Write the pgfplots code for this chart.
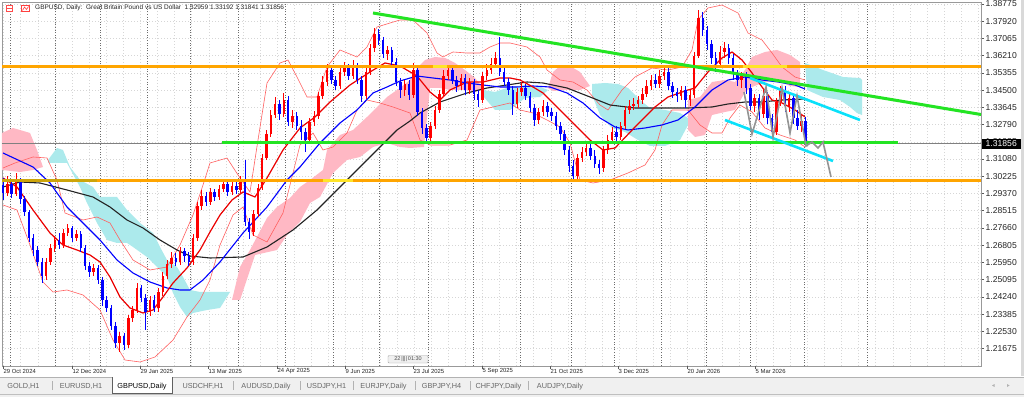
\documentclass[border=0pt]{standalone}
\usepackage{pgfplots}
\pgfplotsset{compat=1.18}
\usepackage{pgfplotstable}
\usetikzlibrary{calc}
\usepackage{fontspec}
\setmainfont{Liberation Sans}
\newfontfamily\ui{Liberation Sans}
\pgfdeclarelayer{background}
\pgfsetlayers{background,main}

\definecolor{cpink}{RGB}{255,184,196}
\definecolor{ccyan}{RGB}{172,234,236}
\definecolor{corange}{RGB}{255,165,0}
\definecolor{colive}{RGB}{205,165,10}
\definecolor{cyel}{RGB}{255,228,40}
\definecolor{cgreen}{RGB}{35,228,35}
\definecolor{caqua}{RGB}{10,225,250}
\definecolor{cband}{RGB}{255,95,95}
\definecolor{cmid}{RGB}{235,0,0}
\definecolor{cup}{RGB}{255,0,0}
\definecolor{cdn}{RGB}{0,0,255}
\definecolor{cblk}{RGB}{35,35,35}
\definecolor{tabbg}{RGB}{240,240,240}

% Readings were taken as pixel rows of the screenshot; \Y maps them to price
% with the right-hand scale (1.38775 at row 4, 0.00855 per 17.225 rows).
\newcommand{\Y}[1]{1.38775-(\thisrow{#1}-4)*0.00049637}

% candles: x, open, close, high, low (screen rows)
\pgfplotstableread{
x o c h l
3 185 193 178 200
7.3 193 184 176 196
11.6 184 194 180 198
16 194 181 173 196
20.3 181 199 178 204
24.6 199 212 196 216
28.9 212 238 210 242
33.2 238 250 234 256
37.6 250 262 246 266
41.9 262 276 258 283
46.2 276 262 258 280
50.5 262 248 244 265
54.8 248 240 236 252
59.2 240 245 233 249
63.5 245 233 229 248
67.8 233 228 224 236
72.1 228 238 226 242
76.4 238 234 230 241
80.8 234 248 231 252
85.1 248 266 245 270
89.4 266 272 262 277
93.7 272 268 264 276
98 268 280 265 284
102.4 280 300 277 306
106.7 300 308 296 312
111 308 326 305 330
115.3 326 343 322 348
119.6 343 336 332 352
124 336 345 333 350
128.3 345 318 315 348
132.6 318 310 306 322
136.9 310 288 283 313
141.2 288 298 285 302
145.6 298 312 294 330
149.9 312 300 296 316
154.2 300 308 295 312
158.5 308 292 288 312
162.8 292 276 272 296
167.2 276 264 260 279
171.5 264 258 252 268
175.8 258 262 253 266
180.1 262 251 247 265
184.4 251 256 248 262
188.8 256 262 252 266
193.1 262 238 234 265
197.4 238 206 202 241
201.7 206 196 190 210
206 196 202 192 206
210.4 202 192 188 205
214.7 192 197 189 201
219 197 189 185 200
223.3 189 184 180 192
227.6 184 192 181 196
232 192 186 182 195
236.3 186 190 182 194
240.6 190 180 176 193
244.9 180 222 160 226
249.2 222 232 218 239
253.6 232 214 210 236
257.9 214 188 184 217
262.2 188 158 154 190
266.5 158 134 130 160
270.8 134 115 110 137
275.2 115 104 97 118
279.5 104 114 100 120
283.8 114 100 93 117
288.1 100 122 96 126
292.4 122 116 110 128
296.8 116 126 112 130
301.1 126 132 120 140
305.4 132 140 128 152
309.7 140 122 118 143
314 122 116 111 126
318.4 116 96 92 119
322.7 96 82 76 99
327 82 70 64 86
331.3 70 80 66 84
335.6 80 86 76 90
340 86 72 67 89
344.3 72 68 62 76
348.6 68 76 64 80
352.9 76 66 60 79
357.2 66 80 63 84
361.6 80 96 76 102
365.9 96 72 68 99
370.2 72 48 44 75
374.5 48 34 28 52
378.8 34 40 29 45
383.2 40 54 37 58
387.5 54 50 46 60
391.8 50 62 47 66
396.1 62 82 58 86
400.4 82 90 78 98
404.8 90 84 80 96
409.1 84 95 80 100
413.4 95 70 63 98
417.7 70 112 66 116
422 112 128 108 134
426.4 128 138 124 143
430.7 138 126 122 141
435 126 110 106 129
439.3 110 94 90 113
443.6 94 76 70 97
448 76 70 65 80
452.3 70 80 66 84
456.6 80 86 76 92
460.9 86 78 74 90
465.2 78 90 74 95
469.6 90 82 78 94
473.9 82 94 79 100
478.2 94 100 90 107
482.5 100 76 72 103
486.8 76 70 64 80
491.2 70 64 58 74
495.5 64 58 52 68
499.8 58 72 37 76
504.1 72 82 68 86
508.4 82 90 78 95
512.8 90 104 86 115
517.1 104 92 88 108
521.4 92 88 82 96
525.7 88 96 84 100
530 96 108 92 112
534.4 108 120 104 126
538.7 120 112 108 124
543 112 106 100 116
547.3 106 112 102 117
551.6 112 116 108 121
556 116 126 112 130
560.3 126 134 122 140
564.6 134 150 130 155
568.9 150 166 146 172
573.2 166 176 160 181
577.6 176 158 154 180
581.9 158 152 147 162
586.2 152 148 144 156
590.5 148 156 144 160
594.8 156 164 150 168
599.2 164 168 160 174
603.5 168 150 146 172
607.8 150 140 135 154
612.1 140 132 127 144
616.4 132 137 126 142
620.8 137 126 122 140
625.1 126 110 106 129
629.4 110 106 100 114
633.7 106 104 98 110
638 104 100 96 108
642.4 100 94 88 104
646.7 94 86 80 97
651 86 80 75 90
655.3 80 84 74 88
659.6 84 76 70 88
664 76 72 66 80
668.3 72 86 68 90
672.6 86 92 82 98
676.9 92 96 88 102
681.2 96 90 86 100
685.6 90 100 86 108
689.9 100 95 90 106
694.2 95 56 52 98
698.5 56 18 10 58
702.8 18 30 12 36
707.2 30 44 26 50
711.5 44 58 40 64
715.8 58 64 52 72
720.1 64 52 46 68
724.4 52 48 42 58
728.8 48 58 44 64
733.1 58 74 54 80
737.4 74 80 70 86
741.7 80 76 72 88
746 76 88 72 94
750.4 88 106 84 110
754.7 106 98 94 112
759 98 114 94 120
763.3 114 96 90 118
767.6 96 118 92 124
772 118 132 114 137
776.3 132 102 98 135
780.6 102 90 86 106
784.9 90 106 86 112
789.2 106 98 92 112
793.6 98 118 94 124
797.6 118 126 110 130
801.4 126 121 114 132
805.5 121 144 117 145
}\candles

\pgfplotstableread{
x py
3 187
20 182
40 183
67 190
93 197
110 207
127 220
143 228
160 240
177 250
190 256
210 258
243 257
267 247
293 230
317 210
340 187
360 167
380 147
397 130
410 121
420 113
440 102
467 93
487 88
507 85
527 82
543 83
567 88
590 97
610 105
635 108
662 108
688 108
712 107
728 104
745 102
762 102
782 100
805 99
}\mablack

\pgfplotstableread{
x py
3 153
33 167
50 183
67 207
83 223
100 240
117 260
133 273
150 282
167 288
180 290
190 290
203 280
220 262
243 233
267 207
287 180
300 167
320 143
340 123
357 110
373 93
387 87
400 81
417 76
433 78
450 80
467 83
483 85
500 87
517 87
533 86
550 87
567 93
583 103
600 118
615 127
628 130
645 128
662 125
678 120
695 107
712 90
728 80
745 77
762 80
778 82
795 85
805 89
}\mablue

\pgfplotstableread{
x py
3 178
17 187
33 210
50 233
63 245
77 250
90 255
100 262
110 277
120 297
130 308
143 313
153 310
163 297
173 283
187 268
200 250
210 232
220 215
232 200
243 192
255 197
267 178
283 150
300 128
315 117
330 102
350 85
370 72
385 63
400 66
417 76
430 92
440 100
450 90
467 82
483 82
500 78
510 78
520 80
533 87
543 93
557 107
573 123
590 140
603 150
615 148
635 127
655 107
668 97
688 90
695 88
708 72
722 58
732 52
742 60
752 73
762 87
772 100
782 103
795 110
805 117
}\mamid

\pgfplotstableread{
x py
3 168
15 163
33 157
47 158
57 180
65 213
83 220
97 217
110 223
120 240
133 260
150 270
167 267
180 245
193 215
203 185
210 163
227 158
240 178
250 192
258 140
267 83
280 63
288 60
297 77
307 97
317 97
327 67
340 50
357 57
367 47
377 27
390 23
400 20
413 20
427 33
437 53
443 57
453 52
467 53
480 53
490 47
500 43
510 43
527 47
540 57
547 70
560 80
573 82
587 90
600 105
608 110
622 90
635 77
652 68
668 70
682 67
692 50
698 20
708 8
722 5
738 13
748 33
762 40
772 53
782 67
795 77
805 80
}\bbup

\pgfplotstableread{
x py
3 205
17 210
30 245
43 282
53 292
67 290
83 295
100 310
113 340
125 360
140 362
155 357
173 340
187 317
200 300
210 280
220 245
233 215
243 207
253 235
267 242
283 213
293 173
300 145
313 133
323 150
333 147
347 133
357 110
367 100
380 103
393 107
410 113
420 140
430 145
450 145
467 140
480 110
493 107
510 103
520 110
533 113
547 120
560 127
570 143
580 180
593 183
610 180
628 173
645 165
655 150
662 125
672 110
688 110
700 125
712 133
722 133
730 118
740 105
752 112
765 128
780 135
795 140
805 147
}\bblo

\pgfplotstableread{
x py
2 133
13 128
20 130
30 133
37 150
43 167
33 170
20 172
2 170
}\pinkA
\pgfplotstableread{
x py
48 160
57 148
63 150
70 167
80 180
93 187
100 197
117 197
127 210
140 223
153 233
160 247
167 260
177 267
183 277
190 290
200 292
230 292
220 308
207 310
193 313
187 317
180 307
173 293
167 277
157 267
147 257
133 247
127 243
117 243
107 240
97 223
87 203
80 187
67 163
48 163
}\cyanA
\pgfplotstableread{
x py
232 300
240 267
250 250
267 218
277 207
290 198
300 187
310 180
323 170
327 150
340 135
353 130
367 117
377 107
387 97
400 88
410 80
417 68
425 60
435 57
445 58
455 63
465 70
475 78
483 88
475 92
465 90
450 90
440 88
430 88
424 147
410 148
400 147
387 143
373 147
360 157
347 160
333 173
320 197
310 203
300 222
287 235
277 250
255 255
240 300
}\pinkB
\pgfplotstableread{
x py
483 90
495 92
510 87
525 85
540 87
548 90
540 97
525 98
510 110
495 110
483 96
}\cyanB
\pgfplotstableread{
x py
548 88
553 72
560 66
570 66
580 72
590 86
580 90
565 90
553 91
}\pinkC
\pgfplotstableread{
x py
592 84
605 83
618 84
628 88
640 100
650 108
665 110
680 113
688 118
688 125
680 140
665 146
650 146
638 140
625 132
612 128
600 115
592 95
}\cyanC
\pgfplotstableread{
x py
688 100
700 97
712 82
725 80
735 82
745 70
752 57
765 52
777 50
790 55
800 62
800 87
790 86
777 80
765 82
752 87
745 92
735 110
725 112
712 115
705 135
695 137
688 130
}\pinkD
\pgfplotstableread{
x py
805 63
823 70
843 77
860 78
862 80
862 115
857 113
850 107
840 100
823 97
807 90
}\cyanD
\pgfplotstableread{
x py
744 92
752 134
766 87
773 137
782 88
790 133
797 96
806 146
812 142
818 148
823 142
831 177
}\zigzag

\begin{document}
\begin{tikzpicture}[x=1pt,y=1pt]
\begin{axis}[
  at={(0,0)}, anchor=south west,
  scale only axis, width=979pt, height=364pt,
  xmin=2, xmax=981, ymin=1.20806, ymax=1.38874,
  axis line style={draw=gray!80, line width=0.7pt},
  xtick={3.6,20.7,...,981}, xticklabels={}, xtick style={draw=none},
  ytick={1.38775,1.37920,1.37065,1.36210,1.35355,1.34500,1.33645,1.32790,1.31935,1.31080,1.30225,1.29370,1.28515,1.27660,1.26805,1.25950,1.25095,1.24240,1.23385,1.22530,1.21675},
  yticklabels={1.38775,1.37920,1.37065,1.36210,1.35355,1.34500,1.33645,1.32790,1.31935,1.31080,1.30225,1.29370,1.28515,1.27660,1.26805,1.25950,1.25095,1.24240,1.23385,1.22530,1.21675},
  ytick pos=right, yticklabel pos=right,
  tick align=outside, major tick length=3pt,
  ytick style={draw=gray!70!black, line width=0.5pt},
  yticklabel style={font=\ui\fontsize{8.6}{9}\selectfont, text=black!85, anchor=west, inner sep=0pt, xshift=1.5pt},
  xmajorgrids, ymajorgrids,
  grid style={draw=gray!32, line width=0.55pt, dash pattern=on 1pt off 2pt},
  extra x ticks={10,55,100,147,190,238,285,333,379,428,473,520,571,614,661,706,750,804,867},
  extra x tick labels={},
  extra x tick style={grid style={draw=gray!85!black, line width=0.55pt, dash pattern=on 1pt off 1.6pt}},
  clip=true,
]
\coordinate (C) at (rel axis cs:0,0);
% Ichimoku cloud
\addplot[fill=cpink, draw=none] table[x=x, y expr=\Y{py}] {\pinkA};
\addplot[fill=ccyan, draw=none] table[x=x, y expr=\Y{py}] {\cyanA};
\addplot[fill=cpink, draw=none] table[x=x, y expr=\Y{py}] {\pinkB};
\addplot[fill=ccyan, draw=none] table[x=x, y expr=\Y{py}] {\cyanB};
\addplot[fill=cpink, draw=none] table[x=x, y expr=\Y{py}] {\pinkC};
\addplot[fill=ccyan, draw=none] table[x=x, y expr=\Y{py}] {\cyanC};
\addplot[fill=cpink, draw=none] table[x=x, y expr=\Y{py}] {\pinkD};
\addplot[fill=ccyan, draw=none] table[x=x, y expr=\Y{py}] {\cyanD};
% Bollinger bands and moving averages
\addplot[cband, line width=0.6pt] table[x=x, y expr=\Y{py}] {\bbup};
\addplot[cband, line width=0.6pt] table[x=x, y expr=\Y{py}] {\bblo};
\addplot[cblk, line width=1.1pt] table[x=x, y expr=\Y{py}] {\mablack};
\addplot[cdn, line width=1.1pt] table[x=x, y expr=\Y{py}] {\mablue};
\addplot[cmid, line width=1.2pt] table[x=x, y expr=\Y{py}] {\mamid};
% candles: wicks
\addplot[cup, line width=0.7pt, restrict expr to domain={\thisrow{o}-\thisrow{c}}{0.01:1000},
  quiver={u=0, v={(\thisrow{l}-\thisrow{h})*0.00049637}}] table[x=x, y expr=\Y{l}] {\candles};
\addplot[cdn, line width=0.7pt, restrict expr to domain={\thisrow{c}-\thisrow{o}}{0.01:1000},
  quiver={u=0, v={(\thisrow{l}-\thisrow{h})*0.00049637}}] table[x=x, y expr=\Y{l}] {\candles};
% candles: bodies
\addplot[cup, line width=2.5pt, restrict expr to domain={\thisrow{o}-\thisrow{c}}{0.01:1000},
  quiver={u=0, v={(\thisrow{o}-\thisrow{c})*0.00049637}}] table[x=x, y expr=\Y{o}] {\candles};
\addplot[cdn, line width=2.5pt, restrict expr to domain={\thisrow{c}-\thisrow{o}}{0.01:1000},
  quiver={u=0, v={(\thisrow{o}-\thisrow{c})*0.00049637}}] table[x=x, y expr=\Y{o}] {\candles};
% horizontal levels
\addplot[corange, line width=3pt] coordinates {(2,1.35648) (981,1.35648)};
\addplot[corange, line width=3pt] coordinates {(2,1.30024) (981,1.30024)};
\addplot[colive, line width=3pt] coordinates {(2,1.30024) (97,1.30024)};
\addplot[cyel, line width=3pt] coordinates {(323,1.30024) (353,1.30024)};
\addplot[cyel, line width=3pt] coordinates {(433,1.35648) (447,1.35648)};
\addplot[cyel, line width=3pt] coordinates {(743,1.35648) (787,1.35648)};
\addplot[gray, line width=0.7pt] coordinates {(2,1.31856) (981,1.31856)};
\addplot[cgreen, line width=3pt] coordinates {(222,1.31900) (898,1.31900)};
% trend lines
\addplot[cgreen, line width=3pt] coordinates {(373,1.38328) (981,1.33290)};
\addplot[caqua, line width=2.6pt] coordinates {(750,1.35102) (860,1.33017)};
\addplot[caqua, line width=2.6pt] coordinates {(725,1.33017) (833,1.30982)};
\addplot[gray!85, line width=1.6pt] table[x=x, y expr=\Y{py}] {\zigzag};
\end{axis}
\coordinate (O) at ($(C)+(-2,-31)$);
\begin{scope}[shift={(O)}]
\begin{pgfonlayer}{background}
\fill[white] (0,0) rectangle (1024,397);
\end{pgfonlayer}
% current price label
\fill[black] (982,248.4) rectangle (1021,258.4);
\node[text=white, font=\ui\fontsize{8.6}{9}\selectfont, anchor=west, inner sep=0pt] at (985.5,253.4) {1.31856};
% title
\fill[red!70] (6,385) rectangle (13,392);
\fill[white] (7,386) rectangle (12,391);
\draw[red!70, line width=0.6pt] (7,388.5) -- (12,388.5);
\draw[red!75, line width=0.7pt] (21.5,385.5) rectangle (29.5,391.5);
\draw[red!75, line width=0.6pt] (22.5,386.5) -- (24.5,390) -- (26.5,387.5) -- (28.5,390.5);
\node[anchor=west, inner sep=0pt, font=\ui\fontsize{6.5}{7}\selectfont, text=black!85] at (35,389)
  {GBPUSD, Daily:\ \ Great Britain Pound vs US Dollar\ \ 1.32959 1.33192 1.31841 1.31856};
% timer box
\draw[gray!70, fill=gray!12, rounded corners=1pt] (388,34) rectangle (428,41.5);
\node[inner sep=0pt, font=\ui\fontsize{5.5}{6}\selectfont, text=black!70] at (408,37.8) {22\,||||\,01:30};
% date axis
\foreach \xx/\lab in {3/29 Oct 2024,72/12 Dec 2024,140/29 Jan 2025,208/13 Mar 2025,277/24 Apr 2025,345/9 Jun 2025,413/23 Jul 2025,482/5 Sep 2025,550/21 Oct 2025,618/3 Dec 2025,687/20 Jan 2026,755/5 Mar 2026}{
  \draw[gray!70!black, line width=0.5pt] (\xx,31) -- (\xx,28);
  \node[anchor=west, inner sep=0pt, font=\ui\fontsize{5.9}{6.5}\selectfont, text=black!85] at (\xx+0.5,25.5) {\lab};
}
% right window edge
\fill[gray!30] (1021,21) rectangle (1024,397);
% tab bar
\fill[tabbg] (0,0) rectangle (1024,20);
\draw[gray!60, line width=0.5pt] (0,20) -- (1024,20);
\fill[white] (112,4) rectangle (172,20.5);
\draw[gray!75!black, line width=0.6pt] (112,20) -- (112,4) -- (172,4) -- (172,20);
\foreach \sx in {52,233,300,353,415,470,528}{\draw[gray!60, line width=0.5pt] (\sx,7) -- (\sx,16);}
\foreach \cx/\lab in {23.5/{GOLD,H1},81/{EURUSD,H1},203/{USDCHF,H1},266/{AUDUSD,Daily},326.5/{USDJPY,H1},383.5/{EURJPY,Daily},441.5/{GBPJPY,H4},498.5/{CHFJPY,Daily},560/{AUDJPY,Daily}}{
  \node[inner sep=0pt, font=\ui\fontsize{7.3}{8}\selectfont, text=gray!80!black] at (\cx,10.5) {\lab};
}
\node[inner sep=0pt, font=\ui\fontsize{7.3}{8}\selectfont, text=black] at (142,10.5) {GBPUSD,Daily};
\fill[gray!60] (992,11.5) -- (994.5,13) -- (994.5,10) -- cycle;
\fill[gray!60] (1009.5,11.5) -- (1007,13) -- (1007,10) -- cycle;
\draw[gray!50, line width=0.4pt] (0,2.5) -- (1024,2.5);
\end{scope}
\pgfresetboundingbox
\path[use as bounding box] (O) rectangle ($(O)+(1024,397)$);
\end{tikzpicture}
\end{document}
